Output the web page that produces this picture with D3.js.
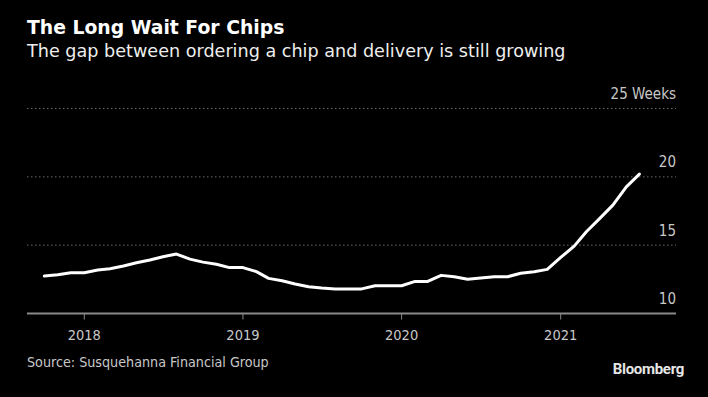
<!DOCTYPE html>
<html>
<head>
<meta charset="utf-8">
<script src="https://cdn.jsdelivr.net/npm/d3@7"></script>
<style>
  html, body { margin: 0; padding: 0; background: #000; }
  svg { display: block; }
</style>
</head>
<body>
<svg width="708" height="397"></svg>
<script>
// monthly lead time, weeks (Oct 2017 - Jul 2021)
const months = [
  "2017-10", "2017-11", "2017-12",
  "2018-01", "2018-02", "2018-03", "2018-04", "2018-05", "2018-06",
  "2018-07", "2018-08", "2018-09", "2018-10", "2018-11", "2018-12",
  "2019-01", "2019-02", "2019-03", "2019-04", "2019-05", "2019-06",
  "2019-07", "2019-08", "2019-09", "2019-10", "2019-11", "2019-12",
  "2020-01", "2020-02", "2020-03", "2020-04", "2020-05", "2020-06",
  "2020-07", "2020-08", "2020-09", "2020-10", "2020-11", "2020-12",
  "2021-01", "2021-02", "2021-03", "2021-04", "2021-05", "2021-06", "2021-07"
];
const weeks = [
  12.74, 12.84, 12.98,
  12.98, 13.18, 13.27, 13.47, 13.71, 13.91,
  14.15, 14.35, 13.98, 13.76, 13.6, 13.36,
  13.36, 13.06, 12.57, 12.4, 12.16, 11.96,
  11.86, 11.8, 11.8, 11.8, 12.03, 12.03,
  12.03, 12.35, 12.35, 12.79, 12.69, 12.5,
  12.59, 12.69, 12.69, 12.94, 13.06, 13.23,
  14.1, 14.93, 15.98, 16.96, 17.93, 19.27, 20.2
];
const yTicks = [10, 15, 20, 25];
const xTicks = ["2018", "2019", "2020", "2021"];

const svg = d3.select("svg");
const parse = d3.timeParse("%Y-%m");
const data = months.map((m, i) => ({ date: parse(m), value: weeks[i] }));

const left = 27, right = 676;
const sans = "DejaVu Sans, Verdana, sans-serif";
const cond = "DejaVu Sans Condensed, DejaVu Sans, sans-serif";

const x = d3.scaleTime()
  .domain([new Date(2018, 0, 1), new Date(2021, 0, 1)])
  .range([84.3, 560.7]);

const y = d3.scaleLinear()
  .domain([10, 25])
  .range([313.5, 108.5]);

svg.append("rect").attr("width", 708).attr("height", 397).attr("fill", "#000");

// titles
svg.append("text")
  .attr("x", left).attr("y", 34)
  .attr("fill", "#fff")
  .attr("font-family", sans)
  .attr("font-weight", "bold")
  .attr("font-size", 18.8)
  .text("The Long Wait For Chips");

svg.append("text")
  .attr("x", left).attr("y", 57)
  .attr("fill", "#eee")
  .attr("font-family", sans)
  .attr("font-size", 17.6)
  .text("The gap between ordering a chip and delivery is still growing");

// y grid + labels
yTicks.forEach(t => {
  svg.append("line")
    .attr("x1", left).attr("x2", right)
    .attr("y1", y(t)).attr("y2", y(t))
    .attr("stroke", t === 10 ? "#8a8a8a" : "#6a6a6a")
    .attr("stroke-width", t === 10 ? 2 : 1)
    .attr("stroke-dasharray", t === 10 ? null : "1.5,2.5");
  svg.append("text")
    .attr("x", right).attr("y", y(t) - 9.5)
    .attr("text-anchor", "end")
    .attr("fill", "#c8c8c8")
    .attr("font-family", cond)
    .attr("font-size", 15)
    .text(t === 25 ? "25 Weeks" : t);
});

// x ticks
xTicks.forEach(t => {
  const px = x(new Date(+t, 0, 1));
  svg.append("line")
    .attr("x1", px).attr("x2", px)
    .attr("y1", y(10)).attr("y2", y(10) + 6)
    .attr("stroke", "#8a8a8a").attr("stroke-width", 1);
  svg.append("text")
    .attr("x", px).attr("y", 340)
    .attr("text-anchor", "middle")
    .attr("fill", "#c8c8c8")
    .attr("font-family", cond)
    .attr("font-size", 14.5)
    .text(t);
});

// series line
const line = d3.line()
  .x(d => x(d.date))
  .y(d => y(d.value));

svg.append("path")
  .datum(data)
  .attr("d", line)
  .attr("fill", "none")
  .attr("stroke", "#fff")
  .attr("stroke-width", 3)
  .attr("stroke-linejoin", "round")
  .attr("stroke-linecap", "round");

// footer
svg.append("text")
  .attr("x", left).attr("y", 367)
  .attr("fill", "#c8c8c8")
  .attr("font-family", cond)
  .attr("font-size", 14.2)
  .text("Source: Susquehanna Financial Group");

svg.append("text")
  .attr("x", 684).attr("y", 374)
  .attr("text-anchor", "end")
  .attr("fill", "#e6e6e6")
  .attr("font-family", "Roboto, Liberation Sans, sans-serif")
  .attr("font-weight", "bold")
  .attr("font-size", 15)
  .attr("letter-spacing", -0.3)
  .text("Bloomberg");
</script>
</body>
</html>
